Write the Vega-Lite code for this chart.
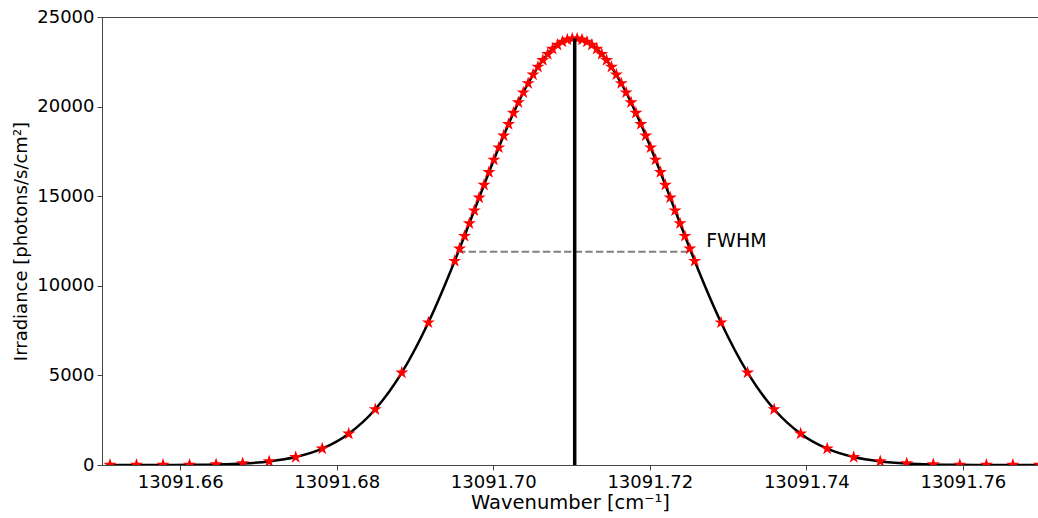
{
  "$schema": "https://vega.github.io/schema/vega-lite/v6.json",
  "width": 936,
  "height": 448,
  "autosize": {"type": "none"},
  "padding": {"left": 102, "top": 17, "right": 0, "bottom": 53},
  "background": "white",
  "config": {
    "view": {"stroke": "#444", "strokeWidth": 1},
    "font": "DejaVu Sans",
    "axis": {
      "domain": false,
      "grid": false,
      "tickColor": "#444",
      "tickSize": 5,
      "tickWidth": 1,
      "labelFont": "DejaVu Sans",
      "labelFontSize": 18,
      "labelColor": "black",
      "labelPadding": 3,
      "titleFont": "DejaVu Sans",
      "titleFontSize": 18,
      "titleFontWeight": "normal",
      "titleColor": "black"
    }
  },
  "encoding": {
    "x": {
      "field": "x",
      "type": "quantitative",
      "scale": {"domain": [13091.65, 13091.7696], "nice": false, "zero": false},
      "axis": {
        "title": "Wavenumber [cm⁻¹]",
        "titleFontSize": 19.5,
        "values": [13091.66, 13091.68, 13091.70, 13091.72, 13091.74, 13091.76],
        "format": ".2f",
        "titlePadding": 2,
        "labelFlush": false,
        "labelOverlap": false
      }
    },
    "y": {
      "field": "y",
      "type": "quantitative",
      "scale": {"domain": [0, 25000], "nice": false},
      "axis": {
        "title": "Irradiance [photons/s/cm²]",
        "values": [0, 5000, 10000, 15000, 20000, 25000],
        "format": "d",
        "titlePadding": 6
      }
    }
  },
  "layer": [
    {
      "data": {"name": "pts"},
      "mark": {"type": "line", "color": "black", "strokeWidth": 2.5, "interpolate": "monotone", "clip": true},
      "encoding": {}
    },
    {
      "data": {"values": [{"x": 13091.6955, "x2": 13091.7253, "y": 11900}]},
      "mark": {"type": "rule", "color": "#808080", "strokeWidth": 2, "strokeDash": [7.4, 3.2]},
      "encoding": {"x2": {"field": "x2"}}
    },
    {
      "data": {"name": "pts"},
      "mark": {
        "type": "point",
        "shape": "M0,-1L0.2245,-0.309L0.951,-0.309L0.3633,0.118L0.588,0.809L0,0.382L-0.588,0.809L-0.3633,0.118L-0.951,-0.309L-0.2245,-0.309Z",
        "filled": true,
        "color": "red",
        "size": 190,
        "opacity": 1,
        "clip": true
      },
      "encoding": {}
    },
    {
      "data": {"values": [{"x": 13091.7104, "y": 0, "y2": 23800}]},
      "mark": {"type": "rule", "color": "black", "strokeWidth": 3.5},
      "encoding": {"y2": {"field": "y2"}}
    },
    {
      "data": {"values": [{"x": 13091.7272, "y": 12180, "label": "FWHM"}]},
      "mark": {"type": "text", "align": "left", "baseline": "alphabetic", "fontSize": 19, "font": "DejaVu Sans", "color": "black"},
      "encoding": {"text": {"field": "label"}}
    }
  ],
  "datasets": {
    "pts": [
      {"x": 13091.65102, "y": 0.38},
      {"x": 13091.65441, "y": 1.28},
      {"x": 13091.6578, "y": 4.07},
      {"x": 13091.66119, "y": 12.0},
      {"x": 13091.66458, "y": 32.9},
      {"x": 13091.66797, "y": 84.2},
      {"x": 13091.67136, "y": 200.1},
      {"x": 13091.67475, "y": 442.5},
      {"x": 13091.67814, "y": 910.8},
      {"x": 13091.68153, "y": 1744.3},
      {"x": 13091.68492, "y": 3108.2},
      {"x": 13091.68831, "y": 5153.6},
      {"x": 13091.6917, "y": 7950.7},
      {"x": 13091.695063, "y": 11383.4},
      {"x": 13091.695689, "y": 12075.0},
      {"x": 13091.696315, "y": 12777.1},
      {"x": 13091.696941, "y": 13486.9},
      {"x": 13091.697567, "y": 14201.2},
      {"x": 13091.698193, "y": 14916.6},
      {"x": 13091.698819, "y": 15629.5},
      {"x": 13091.699445, "y": 16336.4},
      {"x": 13091.700071, "y": 17033.3},
      {"x": 13091.700697, "y": 17716.4},
      {"x": 13091.701323, "y": 18381.6},
      {"x": 13091.701949, "y": 19025.0},
      {"x": 13091.702575, "y": 19642.6},
      {"x": 13091.703201, "y": 20230.5},
      {"x": 13091.703827, "y": 20784.7},
      {"x": 13091.704453, "y": 21301.8},
      {"x": 13091.705079, "y": 21778.2},
      {"x": 13091.705705, "y": 22210.6},
      {"x": 13091.706331, "y": 22596.0},
      {"x": 13091.706957, "y": 22931.6},
      {"x": 13091.707583, "y": 23215.1},
      {"x": 13091.708209, "y": 23444.5},
      {"x": 13091.708835, "y": 23617.9},
      {"x": 13091.709461, "y": 23734.3},
      {"x": 13091.710087, "y": 23792.7},
      {"x": 13091.710713, "y": 23792.7},
      {"x": 13091.711339, "y": 23734.3},
      {"x": 13091.711965, "y": 23617.9},
      {"x": 13091.712591, "y": 23444.5},
      {"x": 13091.713217, "y": 23215.1},
      {"x": 13091.713843, "y": 22931.6},
      {"x": 13091.714469, "y": 22596.0},
      {"x": 13091.715095, "y": 22210.6},
      {"x": 13091.715721, "y": 21778.2},
      {"x": 13091.716347, "y": 21301.8},
      {"x": 13091.716973, "y": 20784.7},
      {"x": 13091.717599, "y": 20230.5},
      {"x": 13091.718225, "y": 19642.6},
      {"x": 13091.718851, "y": 19025.0},
      {"x": 13091.719477, "y": 18381.6},
      {"x": 13091.720103, "y": 17716.4},
      {"x": 13091.720729, "y": 17033.3},
      {"x": 13091.721355, "y": 16336.4},
      {"x": 13091.721981, "y": 15629.5},
      {"x": 13091.722607, "y": 14916.6},
      {"x": 13091.723233, "y": 14201.2},
      {"x": 13091.723859, "y": 13486.9},
      {"x": 13091.724485, "y": 12777.1},
      {"x": 13091.725111, "y": 12075.0},
      {"x": 13091.725737, "y": 11383.4},
      {"x": 13091.7291, "y": 7950.7},
      {"x": 13091.73249, "y": 5153.6},
      {"x": 13091.73588, "y": 3108.2},
      {"x": 13091.73927, "y": 1744.3},
      {"x": 13091.74266, "y": 910.8},
      {"x": 13091.74605, "y": 442.5},
      {"x": 13091.74944, "y": 200.1},
      {"x": 13091.75283, "y": 84.2},
      {"x": 13091.75622, "y": 32.9},
      {"x": 13091.75961, "y": 12.0},
      {"x": 13091.763, "y": 4.07},
      {"x": 13091.76639, "y": 1.28},
      {"x": 13091.76978, "y": 0.38}
    ]
  }
}
